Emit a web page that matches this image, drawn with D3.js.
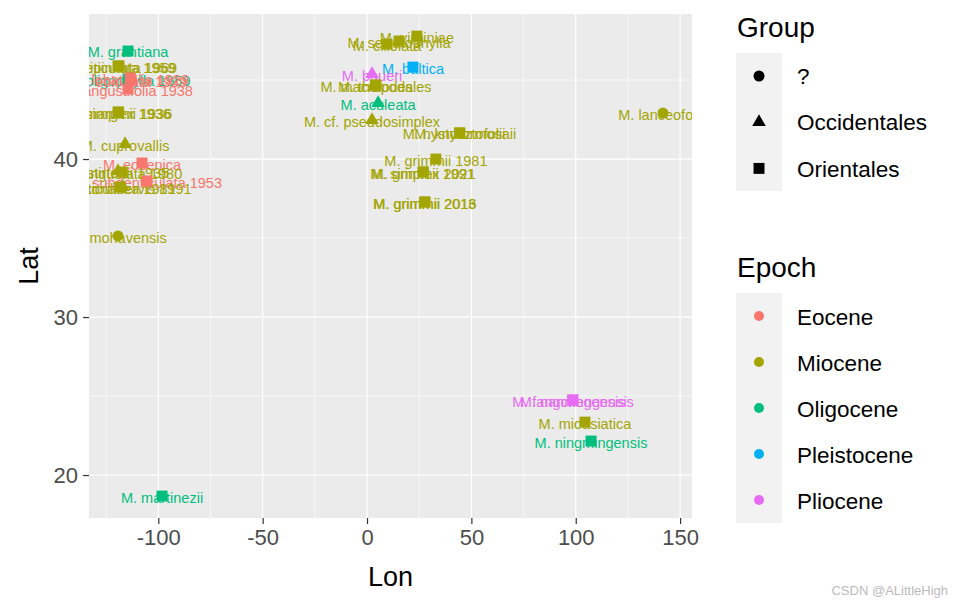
<!DOCTYPE html>
<html><head><meta charset="utf-8">
<script src="https://cdn.jsdelivr.net/npm/d3@7"></script>
<style>body{margin:0;background:#fff;} svg{display:block;font-family:"Liberation Sans",Arial,sans-serif;}</style>
</head><body>
<script>
// ---- data ----
const names = ["M. grantiana","M. reticulata 1959","M. tripinnata 1969","M. oligophylla 1959","M. lobatifolia 1929","M. eolobata 1939","M. angustifolia 1938",
 "M. simplex 1936","M. marginii 1936","M. cuprovallis","M. eocenica","M. subdenticulata 1953","M. stirtonii 1935","M. angustata 1980",
 "M. reticulinervis 1991","M. coriacea 1981","M. mohavensis","M. martinezii","M. virginiae","M. serratophylla","M. ciliolata",
 "M. baltica","M. baueri","M. macropodales","M. tholodes","M. aculeata","M. cf. pseudosimplex","M. knysztofolii","M. nystoformosaii",
 "M. grimmii 1981","M. simplex 2021","M. grimmii 1991","M. grimmii 2016","M. grimmii 2013","M. lanceofolia","M. fangchengensis",
 "M. nanningensis","M. mioasiatica","M. ningmingensis"];
const lon = [-114.5,-119.3,-118.8,-114.5,-113.5,-113.0,-114.5,-119.3,-119.0,-115.9,-107.8,-105.4,-119.3,-117.3,
 -116.9,-118.3,-119.3,-98.2,23.9,15.3,9.6,22.0,2.4,4.3,4.0,5.3,2.4,44.5,44.3,33.0,26.8,27.0,27.8,27.6,141.8,98.7,98.5,104.4,107.3];
const lat = [46.84,45.89,45.89,45.06,45.13,45.0,44.43,42.97,42.97,40.95,39.75,38.61,39.24,39.18,
 38.23,38.23,35.13,18.67,47.78,47.47,47.28,45.82,45.38,44.68,44.68,43.54,42.47,41.65,41.65,40.0,39.18,39.18,37.28,37.28,42.91,24.75,24.75,23.35,22.15];
const epoch = ["Oligocene","Miocene","Miocene","Oligocene","Eocene","Eocene","Eocene","Miocene","Miocene","Miocene","Eocene","Eocene","Miocene","Miocene",
 "Miocene","Miocene","Miocene","Oligocene","Miocene","Miocene","Miocene","Pleistocene","Pliocene","Miocene","Miocene","Oligocene","Miocene","Miocene","Miocene",
 "Miocene","Miocene","Miocene","Miocene","Miocene","Miocene","Pliocene","Pliocene","Miocene","Oligocene"];
const group = ["Orientales","Orientales","Orientales","Orientales","Orientales","Orientales","Orientales","Orientales","Orientales","Occidentales","Orientales","Orientales","Occidentales","Orientales",
 "Occidentales","Orientales","?","Orientales","Orientales","Orientales","Orientales","Orientales","Occidentales","Orientales","Orientales","Occidentales","Occidentales","Orientales","Orientales",
 "Orientales","Orientales","Orientales","Orientales","Orientales","?","Orientales","Orientales","Orientales","Orientales"];
const groupLevels = ["?","Occidentales","Orientales"];
const epochLevels = ["Eocene","Miocene","Oligocene","Pleistocene","Pliocene"];
const epochColors = ["#F8766D","#A3A500","#00BF7D","#00B0F6","#E76BF3"];
const xTicks = [-100,-50,0,50,100,150];
const xMinor = [-125,-75,-25,25,75,125];
const yTicks = [20,30,40];
const yMinor = [25,35,45];

const W=958,H=606;
const P={l:89,r:692,t:14,b:518};
const svg=d3.select("body").append("svg").attr("width",W).attr("height",H);
const x=d3.scaleLinear().domain([-133.2,155.7]).range([P.l,P.r]);
const y=d3.scaleLinear().domain([17.28,49.18]).range([P.b,P.t]);
const col=d3.scaleOrdinal().domain(epochLevels).range(epochColors);
const shp=d3.scaleOrdinal().domain(groupLevels).range([d3.symbolCircle,d3.symbolTriangle,d3.symbolSquare]);
const shpSize={"?":95,"Occidentales":80,"Orientales":120};

svg.append("rect").attr("x",P.l).attr("y",P.t).attr("width",P.r-P.l).attr("height",P.b-P.t).attr("fill","#EBEBEB");
svg.append("clipPath").attr("id","clip").append("rect").attr("x",P.l).attr("y",P.t).attr("width",P.r-P.l).attr("height",P.b-P.t);
const g=svg.append("g").attr("clip-path","url(#clip)");
g.selectAll(".xm").data(xMinor).join("line").attr("x1",d=>x(d)).attr("x2",d=>x(d)).attr("y1",P.t).attr("y2",P.b).attr("stroke","#fff").attr("stroke-width",0.6);
g.selectAll(".ym").data(yMinor).join("line").attr("y1",d=>y(d)).attr("y2",d=>y(d)).attr("x1",P.l).attr("x2",P.r).attr("stroke","#fff").attr("stroke-width",0.6);
g.selectAll(".xM").data(xTicks).join("line").attr("x1",d=>x(d)).attr("x2",d=>x(d)).attr("y1",P.t).attr("y2",P.b).attr("stroke","#fff").attr("stroke-width",1.2);
g.selectAll(".yM").data(yTicks).join("line").attr("y1",d=>y(d)).attr("y2",d=>y(d)).attr("x1",P.l).attr("x2",P.r).attr("stroke","#fff").attr("stroke-width",1.2);

const data=names.map((n,i)=>({n,lon:lon[i],lat:lat[i],e:epoch[i],gr:group[i]}));
g.selectAll("text.lab").data(data).join("text").attr("class","lab")
 .attr("x",d=>x(d.lon)).attr("y",d=>y(d.lat)).attr("text-anchor","middle").attr("dy","0.45em")
 .attr("font-size",14.5).attr("fill",d=>col(d.e)).text(d=>d.n);
g.selectAll("path.pt").data(data).join("path").attr("class","pt")
 .attr("transform",d=>`translate(${x(d.lon)},${y(d.lat)})`)
 .attr("d",d=>d3.symbol().type(shp(d.gr)).size(shpSize[d.gr])()).attr("fill",d=>col(d.e));

// axes
const xa=svg.append("g").attr("transform",`translate(0,${P.b})`)
 .call(d3.axisBottom(x).tickValues(xTicks).tickSize(6).tickPadding(5).tickFormat(d=>d<0?"-"+Math.abs(d):d));
xa.select(".domain").remove();
xa.selectAll("line").attr("stroke","#333").attr("stroke-width",1.2);
xa.selectAll("text").attr("font-size",22).attr("fill","#4D4D4D").attr("font-family","Liberation Sans, Arial, sans-serif");
const ya=svg.append("g").attr("transform",`translate(${P.l},0)`)
 .call(d3.axisLeft(y).tickValues(yTicks).tickSize(6).tickPadding(5));
ya.select(".domain").remove();
ya.selectAll("line").attr("stroke","#333").attr("stroke-width",1.2);
ya.selectAll("text").attr("font-size",22).attr("fill","#4D4D4D").attr("font-family","Liberation Sans, Arial, sans-serif");

svg.append("text").attr("x",(P.l+P.r)/2).attr("y",586).attr("text-anchor","middle").attr("font-size",27).text("Lon");
svg.append("text").attr("transform",`translate(38,${(P.t+P.b)/2}) rotate(-90)`).attr("text-anchor","middle").attr("font-size",27).text("Lat");

// legends
svg.append("text").attr("x",737).attr("y",37).attr("font-size",28).text("Group");
svg.append("rect").attr("x",736).attr("y",53).attr("width",46).attr("height",138).attr("fill","#F2F2F2");
groupLevels.forEach((lv,i)=>{
  const cy=76+i*46.2;
  svg.append("path").attr("transform",`translate(759,${cy})`).attr("d",d3.symbol().type(shp(lv)).size(shpSize[lv])()).attr("fill","#000");
  svg.append("text").attr("x",797).attr("y",cy).attr("dy","0.36em").attr("font-size",22.5).text(lv);
});
svg.append("text").attr("x",737).attr("y",277).attr("font-size",28).text("Epoch");
svg.append("rect").attr("x",736).attr("y",293).attr("width",46).attr("height",230).attr("fill","#F2F2F2");
epochLevels.forEach((lv,i)=>{
  const cy=316+i*46;
  svg.append("text").attr("x",759).attr("y",cy+4).attr("text-anchor","middle").attr("font-size",9).attr("fill",col(lv)).text("a");
  svg.append("circle").attr("cx",759).attr("cy",cy).attr("r",5).attr("fill",col(lv));
  svg.append("text").attr("x",797).attr("y",cy+1).attr("dy","0.36em").attr("font-size",22.5).text(lv);
});
svg.append("text").attr("x",948).attr("y",595).attr("text-anchor","end").attr("font-size",13).attr("fill","#bbb").text("CSDN @ALittleHigh");
</script>
</body></html>
